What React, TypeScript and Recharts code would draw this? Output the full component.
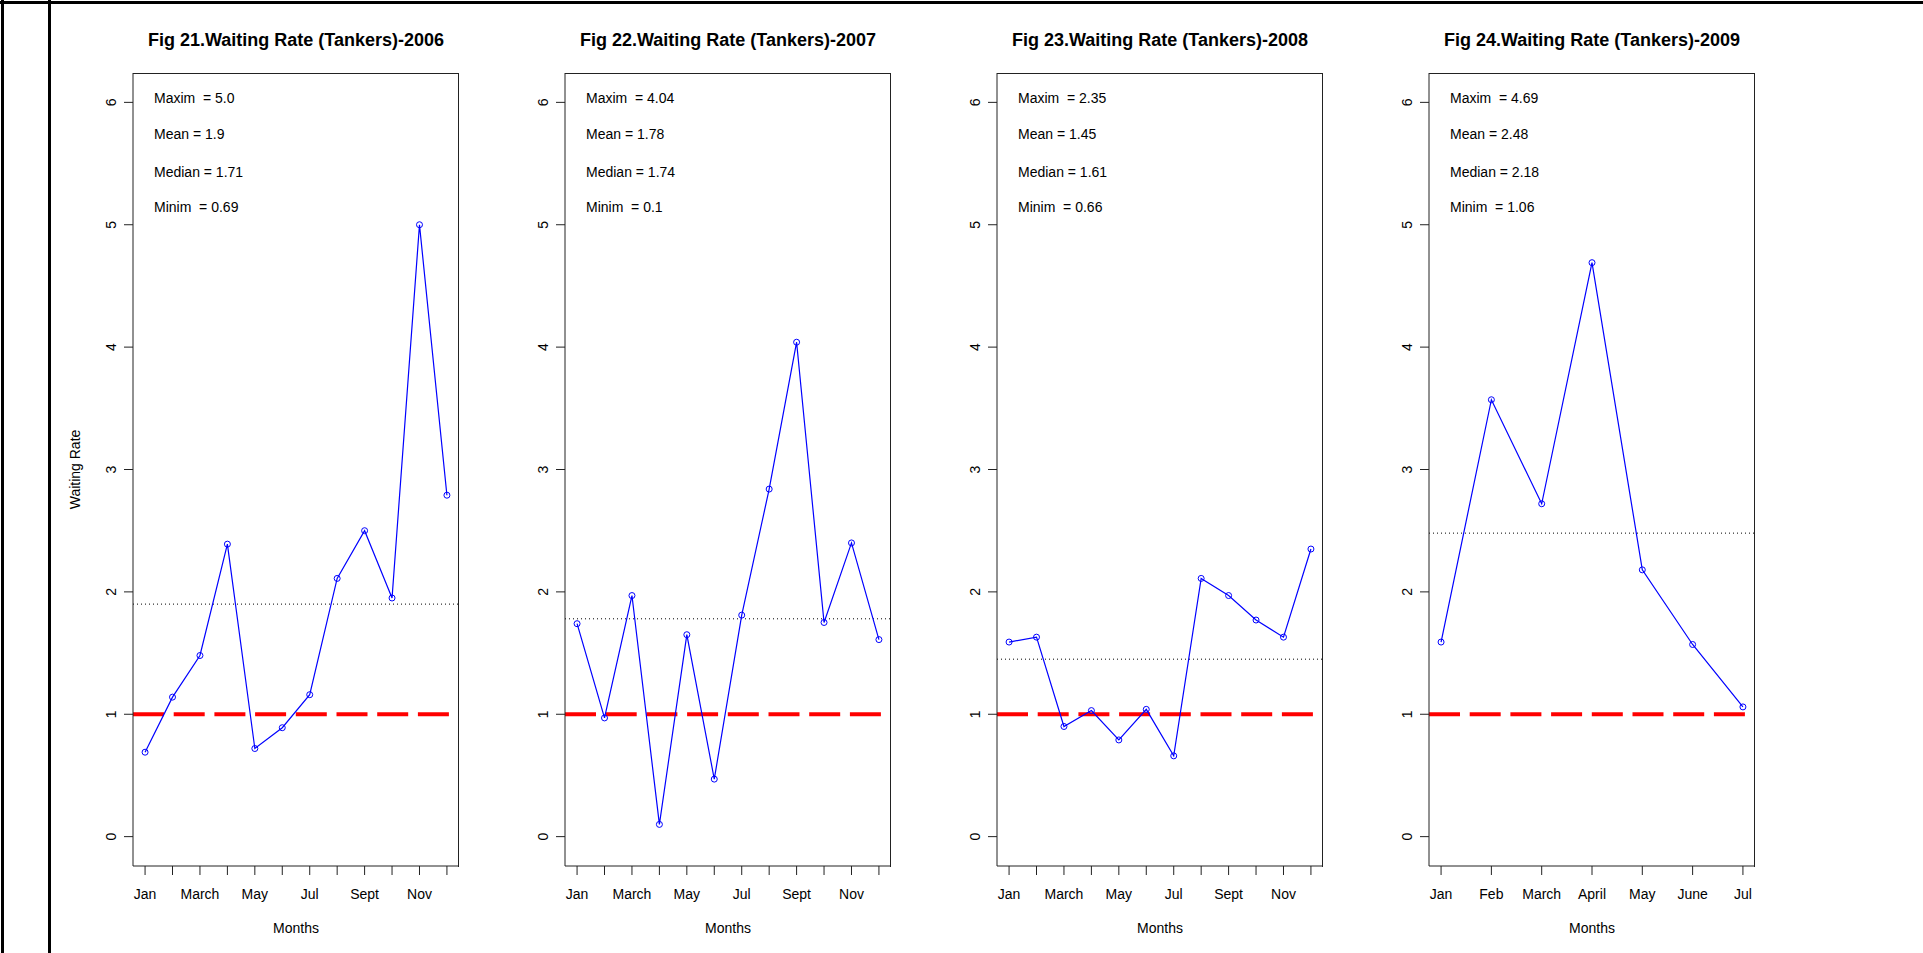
import {
  LineChart,
  Line,
  XAxis,
  YAxis,
  ReferenceLine,
} from 'recharts';

const months = ['Jan', 'Feb', 'March', 'April', 'May', 'June', 'Jul', 'Aug', 'Sept', 'Oct', 'Nov', 'Dec'];
const months2009 = ['Jan', 'Feb', 'March', 'April', 'May', 'June', 'Jul'];

const rate2006 = [0.69, 1.14, 1.48, 2.39, 0.72, 0.89, 1.16, 2.11, 2.5, 1.95, 5.0, 2.79];
const rate2007 = [1.74, 0.97, 1.97, 0.1, 1.65, 0.47, 1.81, 2.84, 4.04, 1.75, 2.4, 1.61];
const rate2008 = [1.59, 1.63, 0.9, 1.03, 0.79, 1.04, 0.66, 2.11, 1.97, 1.77, 1.63, 2.35];
const rate2009 = [1.59, 3.57, 2.72, 4.69, 2.18, 1.57, 1.06];

const titles = [
  'Fig 21.Waiting Rate (Tankers)-2006',
  'Fig 22.Waiting Rate (Tankers)-2007',
  'Fig 23.Waiting Rate (Tankers)-2008',
  'Fig 24.Waiting Rate (Tankers)-2009',
];
const maxims = ['5.0', '4.04', '2.35', '4.69'];
const means = [1.9, 1.78, 1.45, 2.48];
const medians = ['1.71', '1.74', '1.61', '2.18'];
const minims = ['0.69', '0.1', '0.66', '1.06'];

const yTicks = [0, 1, 2, 3, 4, 5, 6];
const threshold = 1;

const FONT = '"Liberation Sans", Arial, sans-serif';
const BOX_W = 326;
const BOX_TOP = 73;
const BOX_H = 793;
const Y_AXIS_W = 116;
const PANEL_STEP = 432;
const FIRST_BOX_LEFT = 133;

const YTick = ({ x, y, payload }: any) => (
  <text
    x={x}
    y={y}
    transform={`rotate(-90, ${x}, ${y})`}
    textAnchor="middle"
    dominantBaseline="central"
    fontSize={14}
    fontFamily={FONT}
    fill="#000"
  >
    {payload.value}
  </text>
);

function Panel({ index, labels, values, showYLabel }: { index: number; labels: string[]; values: number[]; showYLabel?: boolean }) {
  const data = values.map((v, i) => ({ x: i + 1, month: labels[i], rate: v }));
  const n = labels.length;
  // R style 4% axis extension
  const pad = (n - 1) * 0.04;
  const xDomain = [1 - pad, n + pad];
  const xTicks = data.map((d) => d.x);
  const everyOther = n > 8;
  const boxLeft = FIRST_BOX_LEFT + PANEL_STEP * index;

  const XTick = ({ x, y, payload }: any) => {
    const i = payload.value - 1;
    const text = everyOther && i % 2 === 1 ? '' : labels[i];
    return (
      <text x={x} y={y} textAnchor="middle" dominantBaseline="central" fontSize={14} fontFamily={FONT} fill="#000">
        {text}
      </text>
    );
  };

  const stats = [
    `Maxim  = ${maxims[index]}`,
    `Mean = ${means[index]}`,
    `Median = ${medians[index]}`,
    `Minim  = ${minims[index]}`,
  ];
  const statY = [24.7, 61.3, 98.7, 134.3];

  return (
    <>
      <div
        style={{
          position: 'absolute',
          left: boxLeft - 40,
          width: BOX_W + 80,
          top: 31,
          lineHeight: '18px',
          fontSize: 18,
          fontWeight: 'bold',
          fontFamily: FONT,
          textAlign: 'center',
          color: '#000',
          whiteSpace: 'nowrap',
        }}
      >
        {titles[index]}
      </div>
      <div style={{ position: 'absolute', left: boxLeft - Y_AXIS_W, top: 0 }}>
        <LineChart
          width={Y_AXIS_W + BOX_W + 2}
          height={953}
          data={data}
          margin={{ top: BOX_TOP, right: 2, bottom: 0, left: 0 }}
        >
          <XAxis
            dataKey="x"
            type="number"
            domain={xDomain}
            ticks={xTicks}
            allowDataOverflow
            height={953 - BOX_TOP - BOX_H}
            stroke="#222"
            tickSize={9}
            tickMargin={19}
            tick={<XTick />}
            interval={0}
            label={{ value: 'Months', position: 'insideTop', offset: 57, fontSize: 14, fontFamily: FONT, fill: '#000' }}
          />
          <YAxis
            type="number"
            domain={[-0.24, 6.24]}
            ticks={yTicks}
            allowDataOverflow
            width={Y_AXIS_W}
            stroke="#222"
            tickSize={9}
            tickMargin={13}
            tick={<YTick />}
            interval={0}
            label={
              showYLabel
                ? { value: 'Waiting Rate', angle: -90, position: 'center', fontSize: 14, fontFamily: FONT, fill: '#000' }
                : undefined
            }
          />
          <ReferenceLine y={threshold} stroke="#ff0000" strokeWidth={4} strokeDasharray="31 9.7" />
          <ReferenceLine y={means[index]} stroke="#000" strokeWidth={1} strokeDasharray="1 3" />
          <Line
            type="linear"
            dataKey="rate"
            stroke="#0000ff"
            strokeWidth={1.2}
            dot={{ r: 3, stroke: '#0000ff', strokeWidth: 1, fill: 'none' }}
            activeDot={false}
            isAnimationActive={false}
          />
        </LineChart>
      </div>
      {/* plot box: top and right edges */}
      <div
        style={{
          position: 'absolute',
          left: boxLeft,
          top: BOX_TOP,
          width: BOX_W - 1,
          height: BOX_H,
          borderTop: '1px solid #222',
          borderRight: '1px solid #222',
          pointerEvents: 'none',
        }}
      />
      {stats.map((s, i) => (
        <div
          key={s}
          style={{
            position: 'absolute',
            left: boxLeft + 21,
            top: BOX_TOP + statY[i] - 8,
            lineHeight: '16px',
            fontSize: 14,
            fontFamily: FONT,
            color: '#000',
            whiteSpace: 'pre',
          }}
        >
          {s}
        </div>
      ))}
    </>
  );
}

export default function App() {
  return (
    <div style={{ position: 'absolute', left: 0, top: 0, width: 1923, height: 953, background: '#fff', overflow: 'hidden' }}>
      {/* document table borders */}
      <div style={{ position: 'absolute', left: 0, top: 1, width: 1923, height: 3, background: '#000' }} />
      <div style={{ position: 'absolute', left: 1, top: 0, width: 3, height: 953, background: '#000' }} />
      <div style={{ position: 'absolute', left: 48, top: 0, width: 2.5, height: 953, background: '#000' }} />
      <Panel index={0} labels={months} values={rate2006} showYLabel />
      <Panel index={1} labels={months} values={rate2007} />
      <Panel index={2} labels={months} values={rate2008} />
      <Panel index={3} labels={months2009} values={rate2009} />
    </div>
  );
}
